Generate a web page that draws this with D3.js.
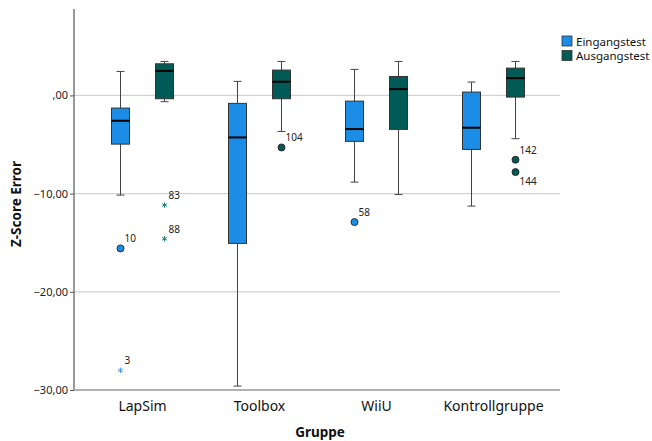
<!DOCTYPE html>
<html><head><meta charset="utf-8">
<script src="https://cdn.jsdelivr.net/npm/d3@7/dist/d3.min.js"></script>
<style>body{margin:0;background:#fff}svg{display:block}</style>
</head><body><svg id="c" width="652" height="441"></svg>
<script>
const groups = ["LapSim", "Toolbox", "WiiU", "Kontrollgruppe"];
const series = ["Eingangstest", "Ausgangstest"];
const yTicks = [0, -10, -20, -30];
// Eingangstest stats per group
const einWhiskerHigh = [2.44, 1.43, 2.65, 1.36];
const einQ3 = [-1.29, -0.81, -0.58, 0.34];
const einMedian = [-2.58, -4.28, -3.43, -3.29];
const einQ1 = [-4.96, -15.07, -4.68, -5.5];
const einWhiskerLow = [-10.15, -29.6, -8.83, -11.27];
// Ausgangstest stats per group
const ausWhiskerHigh = [3.46, 3.46, 3.46, 3.46];
const ausQ3 = [3.22, 2.58, 1.93, 2.78];
const ausMedian = [2.5, 1.39, 0.64, 1.76];
const ausQ1 = [-0.34, -0.34, -3.46, -0.17];
const ausWhiskerLow = [-0.64, -3.67, -10.1, -4.41];
// outliers: group, series, value, case id, type, label side
const outGroup = ["LapSim", "LapSim", "LapSim", "LapSim", "Toolbox", "WiiU", "Kontrollgruppe", "Kontrollgruppe"];
const outSeries = ["Eingangstest", "Eingangstest", "Ausgangstest", "Ausgangstest", "Ausgangstest", "Eingangstest", "Ausgangstest", "Ausgangstest"];
const outValue = [-15.58, -28.0, -11.17, -14.6, -5.3, -12.9, -6.55, -7.81];
const outId = ["10", "3", "83", "88", "104", "58", "142", "144"];
const outType = ["circle", "star", "star", "star", "circle", "circle", "circle", "circle"];
const outLabelBelow = [false, false, false, false, false, false, false, true];

const colors = {Eingangstest: "#1b8de6", Ausgangstest: "#005b56"};
const starColors = {Eingangstest: "#3ea2ef", Ausgangstest: "#1b7a72"};

const svg = d3.select("#c");
const font = "'Lucida Grande','Noto Sans','DejaVu Sans',Arial,sans-serif";
const pLeft = 74, pRight = 560, pTop = 9, pBottom = 390;

const x = d3.scaleBand().domain(groups).range([84, 552]);
const xs = d3.scaleOrdinal().domain(series).range([-22, 22]);
const y = d3.scaleLinear().domain([-30, 8.8]).range([pBottom, pTop]);
const bw = 18, cap = 8;

// gridlines
svg.append("g").selectAll("line").data(yTicks.filter(t => t !== -30)).join("line")
  .attr("x1", pLeft).attr("x2", pRight).attr("y1", d => y(d)).attr("y2", d => y(d))
  .attr("stroke", "#d2d2d2").attr("stroke-width", 1.3);

// y axis
const yAxis = d3.axisLeft(y).tickValues(yTicks).tickSize(4)
  .tickFormat(d => (d === 0 ? ",00" : d3.format(".2f")(d).replace("-", "−").replace(".", ",")));
const gy = svg.append("g").attr("transform", `translate(${pLeft},0)`).call(yAxis);
gy.select(".domain").remove();
gy.selectAll(".tick line").attr("stroke", "#555");
gy.selectAll(".tick text").attr("font-family", font).attr("font-size", 11).attr("fill", "#222").attr("x", -6);
svg.append("line").attr("x1", pLeft).attr("x2", pLeft).attr("y1", pTop).attr("y2", pBottom).attr("stroke", "#555").attr("stroke-width", 1.2);
svg.append("line").attr("x1", pLeft).attr("x2", pRight).attr("y1", pBottom).attr("y2", pBottom).attr("stroke", "#999").attr("stroke-width", 1.3);

// x axis labels
const xAxis = d3.axisBottom(x).tickSize(0);
const gx = svg.append("g").attr("transform", `translate(0,${pBottom})`).call(xAxis);
gx.select(".domain").remove();
gx.selectAll(".tick text").attr("font-family", font).attr("font-size", 14).attr("fill", "#111").attr("dy", "1.25em");

// axis titles
svg.append("text").attr("x", 320).attr("y", 437).attr("text-anchor", "middle")
  .attr("font-family", font).attr("font-size", 13.5).attr("font-weight", "bold").attr("fill", "#111").text("Gruppe");
svg.append("text").attr("transform", "translate(21,204) rotate(-90)").attr("text-anchor", "middle")
  .attr("font-family", font).attr("font-size", 13.5).attr("font-weight", "bold").attr("fill", "#111").text("Z-Score Error");

// boxes
const boxData = [];
groups.forEach((g, i) => {
  boxData.push({g, s: "Eingangstest", hi: einWhiskerHigh[i], q3: einQ3[i], med: einMedian[i], q1: einQ1[i], lo: einWhiskerLow[i]});
  boxData.push({g, s: "Ausgangstest", hi: ausWhiskerHigh[i], q3: ausQ3[i], med: ausMedian[i], q1: ausQ1[i], lo: ausWhiskerLow[i]});
});
const cx = d => x(d.g) + x.bandwidth() / 2 + xs(d.s);
const bg = svg.append("g").selectAll("g").data(boxData).join("g");
bg.append("line").attr("x1", cx).attr("x2", cx).attr("y1", d => y(d.hi)).attr("y2", d => y(d.lo)).attr("stroke", "#444").attr("stroke-width", 1);
bg.append("line").attr("x1", d => cx(d) - cap / 2).attr("x2", d => cx(d) + cap / 2).attr("y1", d => y(d.hi)).attr("y2", d => y(d.hi)).attr("stroke", "#444");
bg.append("line").attr("x1", d => cx(d) - cap / 2).attr("x2", d => cx(d) + cap / 2).attr("y1", d => y(d.lo)).attr("y2", d => y(d.lo)).attr("stroke", "#444");
bg.append("rect").attr("x", d => cx(d) - bw / 2).attr("width", bw).attr("y", d => y(d.q3)).attr("height", d => y(d.q1) - y(d.q3))
  .attr("fill", d => colors[d.s]).attr("stroke", "#333").attr("stroke-width", 1);
bg.append("line").attr("x1", d => cx(d) - bw / 2).attr("x2", d => cx(d) + bw / 2).attr("y1", d => y(d.med)).attr("y2", d => y(d.med)).attr("stroke", "#000").attr("stroke-width", 2);

// outliers
const outData = outValue.map((v, i) => ({g: outGroup[i], s: outSeries[i], v, id: outId[i], t: outType[i], below: outLabelBelow[i]}));
const og = svg.append("g").selectAll("g").data(outData).join("g")
  .attr("transform", d => `translate(${cx(d)},${y(d.v)})`);
og.filter(d => d.t === "circle").append("circle").attr("r", 3.5).attr("fill", d => colors[d.s]).attr("stroke", "#222").attr("stroke-width", 0.9);
og.filter(d => d.t === "star").append("path").attr("d", d3.symbol(d3.symbolAsterisk, 20)).attr("stroke", d => starColors[d.s]).attr("stroke-width", 1).attr("fill", "none");
og.append("text").attr("x", 4).attr("y", d => d.below ? 13 : -6)
  .attr("font-family", font).attr("font-size", 10).attr("fill", "#222").text(d => d.id);

// legend
const lg = svg.append("g").selectAll("g").data(series).join("g").attr("transform", (d, i) => `translate(562,${36 + i * 14.5})`);
lg.append("rect").attr("width", 10).attr("height", 10).attr("fill", d => colors[d]).attr("stroke", "#333").attr("stroke-width", 0.8);
lg.append("text").attr("x", 14).attr("y", 9.5).attr("font-family", font).attr("font-size", 11.5).attr("fill", "#111").text(d => d);
</script></body></html>
